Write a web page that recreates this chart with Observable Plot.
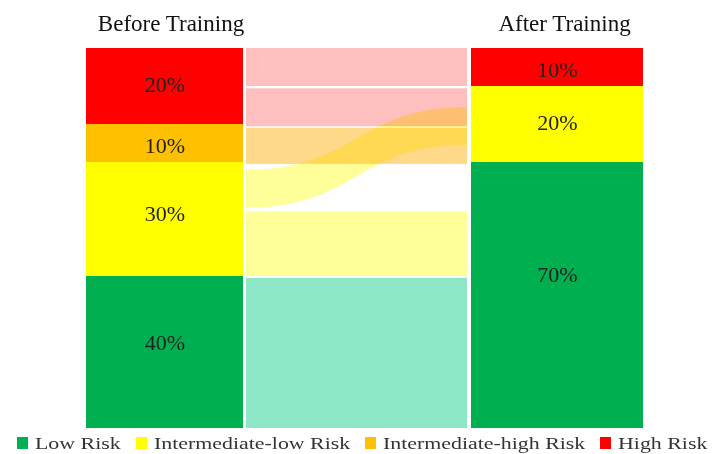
<!DOCTYPE html>
<html>
<head>
<meta charset="utf-8">
<script src="https://cdn.jsdelivr.net/npm/d3@7"></script>
<script src="https://cdn.jsdelivr.net/npm/@observablehq/plot@0.6"></script>
<style>
  html, body { margin: 0; padding: 0; background: #fff; }
  #chart { width: 719px; height: 432px; }
  .legend { display: flex; align-items: center; height: 22px; font-family: "Liberation Serif", serif; font-size: 17.5px; color: #333; white-space: nowrap; }
  .legend .sw { display: inline-block; width: 11px; height: 12px; margin-right: 7px; }
  .legend .item { display: inline-flex; align-items: center; margin-right: 15px; }
  .legend .lbl { display: inline-block; transform: scaleX(1.25); transform-origin: left center; }
</style>
</head>
<body>
<div id="chart"></div>
<script>
// Risk categories and their colours
const categories = ["Low Risk", "Intermediate-low Risk", "Intermediate-high Risk", "High Risk"];
const categoryColors = ["#00b050", "#ffff00", "#ffc000", "#ff0000"];
const flowColors = ["#8de6c6", "#ffff99", "#ffd98a", "#ffbfbf"];

// Share of participants per category (top to bottom)
const beforeCategories = ["High Risk", "Intermediate-high Risk", "Intermediate-low Risk", "Low Risk"];
const beforeShares = [20, 10, 30, 40];
const afterCategories = ["High Risk", "Intermediate-low Risk", "Low Risk"];
const afterShares = [10, 20, 70];

// Transitions between the two assessments (shares in %, offsets from the top in %)
const flowFrom = ["High Risk", "High Risk", "Intermediate-high Risk", "Intermediate-low Risk", "Intermediate-low Risk", "Low Risk"];
const flowShares = [10, 10, 9.5, 10, 17, 39.5];
const flowStartTop = [0, 10.6, 21, 32, 43, 60.5];
const flowEndTop = [0, 10.6, 21, 15.5, 43, 60.5];

// Column layout along x
const cols = {before: [86, 243], flow: [246, 467], after: [471, 643]};
const colorOf = c => categoryColors[categories.indexOf(c)];
const flowColorOf = c => flowColors[categories.indexOf(c)];

function stack(cats, shares, col, stage) {
  let acc = 0;
  return cats.map((c, i) => {
    const d = {stage, category: c, share: shares[i], x1: col[0], x2: col[1], y1: acc, y2: acc + shares[i]};
    acc += shares[i];
    return d;
  });
}
const bars = [
  ...stack(beforeCategories, beforeShares, cols.before, "Before Training"),
  ...stack(afterCategories, afterShares, cols.after, "After Training")
];

const flows = flowFrom.map((c, i) => ({
  category: c,
  share: flowShares[i],
  top0: flowStartTop[i], top1: flowEndTop[i]
}));
const straight = flows.filter(f => f.top0 === f.top1);
const curved = flows.filter(f => f.top0 !== f.top1).flatMap((f, k) => [
  {id: k, category: f.category, x: cols.flow[0], y1: f.top0, y2: f.top0 + f.share},
  {id: k, category: f.category, x: cols.flow[1], y1: f.top1, y2: f.top1 + f.share}
]);

const titles = [
  {label: "Before Training", x: (cols.before[0] + cols.before[1]) / 2 + 6},
  {label: "After Training", x: (cols.after[0] + cols.after[1]) / 2 + 7}
];

const font = "'Liberation Serif', serif";
const chart = Plot.plot({
  width: 719,
  height: 432,
  margin: 0,
  x: {domain: [0, 719], range: [0, 719], axis: null},
  y: {domain: [0, 100], range: [48, 428], axis: null},
  style: {fontFamily: font, background: "#fff"},
  marks: [
    Plot.rect(straight, {
      x1: cols.flow[0], x2: cols.flow[1],
      y1: "top0", y2: d => d.top0 + d.share,
      fill: d => flowColorOf(d.category),
      mixBlendMode: "multiply"
    }),
    Plot.areaY(curved, {
      x: "x", y1: "y1", y2: "y2", z: "id",
      fill: d => flowColorOf(d.category),
      curve: "bump-x",
      mixBlendMode: "multiply"
    }),
    Plot.rect(bars, {
      x1: "x1", x2: "x2", y1: "y1", y2: "y2",
      fill: d => colorOf(d.category)
    }),
    // percentage labels sit a little above centre in the taller segments
    Plot.text(bars, {
      x: d => (d.x1 + d.x2) / 2, y: d => d.y1 + 0.4 * d.share + 1.6,
      text: d => `${d.share}%`,
      fontSize: 22, fill: "#222"
    }),
    Plot.text(titles, {
      x: "x", frameAnchor: "top", dy: 14, text: "label",
      fontSize: 23, fill: "#111"
    })
  ]
});
document.getElementById("chart").append(chart);

// Legend below the chart; labels are drawn slightly widened
const legend = document.createElement("div");
legend.className = "legend";
legend.style.paddingLeft = "17px";
document.body.append(legend);
categories.forEach((c, i) => {
  const item = document.createElement("span");
  item.className = "item";
  const sw = document.createElement("span");
  sw.className = "sw";
  sw.style.background = categoryColors[i];
  const lbl = document.createElement("span");
  lbl.className = "lbl";
  lbl.textContent = c;
  item.append(sw, lbl);
  legend.append(item);
  lbl.style.marginRight = `${lbl.offsetWidth * 0.25}px`;
});
</script>
</body>
</html>
